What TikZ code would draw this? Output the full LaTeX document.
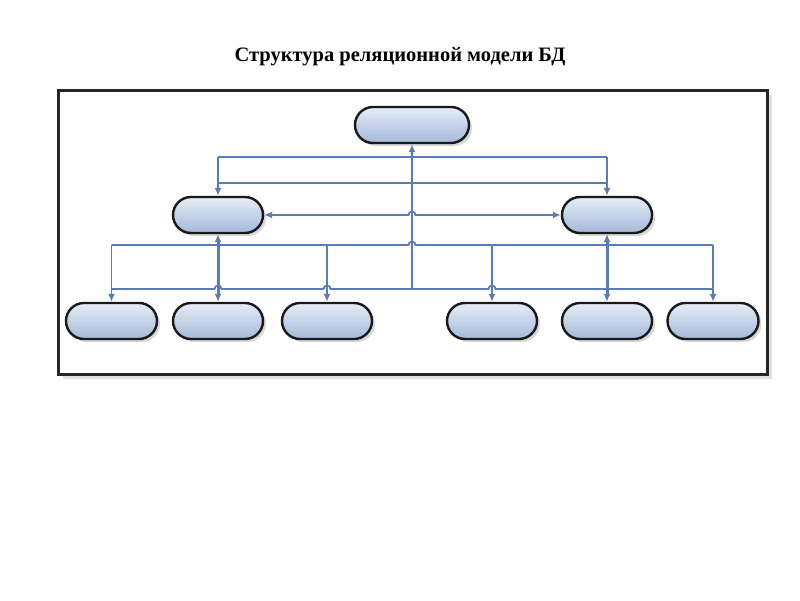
\documentclass[tikz,border=0pt]{standalone}
\usepackage{fontspec}
\setmainfont{Liberation Serif}
\usetikzlibrary{arrows.meta,shapes.misc,shadows}
\definecolor{connblue}{HTML}{5A7CB4}
\definecolor{nodelt}{HTML}{E6EDF7}
\definecolor{nodedk}{HTML}{A3B9D9}
\begin{document}
\begin{tikzpicture}[x=1pt,y=-1pt,
  pill/.style={rounded rectangle, draw=black!90, line width=2.4pt,
    minimum width=#1, minimum height=36pt, inner sep=0pt,
    top color=nodelt, bottom color=nodedk,
    drop shadow={shadow xshift=3pt,shadow yshift=-3pt,fill=black!30,opacity=.5}},
  pill/.default=90pt,
  link/.style={draw=connblue, line width=1.8pt},
  tip/.style={},
  arr/.style={link, -{Latex[length=8pt,width=7pt]}},
  darr/.style={link, line width=3pt, {Latex[length=8pt,width=7pt]}-{Latex[length=8pt,width=7pt]}}
]
\useasboundingbox (0,0) rectangle (800,600);
\fill[white] (0,0) rectangle (800,600);

% title
\node[font=\bfseries\fontsize{20.5}{24}\selectfont] (title) at (400,57) {Структура реляционной модели БД};

% frame
\fill[black!12] (63,95) rectangle (772,379);
\draw[line width=3pt, draw=black!85, fill=white] (58,90) rectangle (767,374);

% nodes
\node[pill=114pt] (top) at (412,125) {};
\node[pill] (ml) at (218,215) {};
\node[pill] (mr) at (607,215) {};
\node[pill=91pt] (b1) at (111.5,321) {};
\node[pill] (b2) at (218,321) {};
\node[pill] (b3) at (327,321) {};
\node[pill] (b4) at (492,321) {};
\node[pill] (b5) at (607,321) {};
\node[pill=91pt] (b6) at (713,321) {};

% coordinates
\coordinate (hub) at (412,289);
\coordinate (busA) at (412,157);
\coordinate (busB) at (412,183);

% upper connectors
\draw[link] (busA -| ml) -- (busA -| mr);
\draw[link] (busB -| ml) -- (busB -| mr);
\draw[arr] (busA -| ml) -- (ml.north);
\draw[arr] (busA -| mr) -- (mr.north);
\draw[arr] (hub) -- (top.south);

% middle horizontal with double arrow and jump
\draw[link, {Latex[length=8pt,width=7pt]}-{Latex[length=8pt,width=7pt]}]
  (ml.east) -- (408.5,215) arc[start angle=180,end angle=0,radius=3.5pt] -- (mr.west);

% thick double links
\draw[darr] (ml.south) -- (b2.north);
\draw[darr] (mr.south) -- (b5.north);

% lower buses
\draw[link] (b1.north |- 0,245) -- (408.5,245) arc[start angle=180,end angle=0,radius=3.5pt] -- (b6.north |- 0,245);
\draw[link] (b1.north |- hub) -- (214.5,289) arc[start angle=180,end angle=0,radius=3.5pt]
  -- (323.5,289) arc[start angle=180,end angle=0,radius=3.5pt]
  -- (488.5,289) arc[start angle=180,end angle=0,radius=3.5pt]
  -- (b6.north |- hub);

% drops
\draw[arr] (b1.north |- 0,245) -- (b1.north);
\draw[arr] (b3.north |- 0,245) -- (b3.north);
\draw[arr] (b4.north |- 0,245) -- (b4.north);
\draw[arr] (b6.north |- 0,245) -- (b6.north);
\end{tikzpicture}
\end{document}
